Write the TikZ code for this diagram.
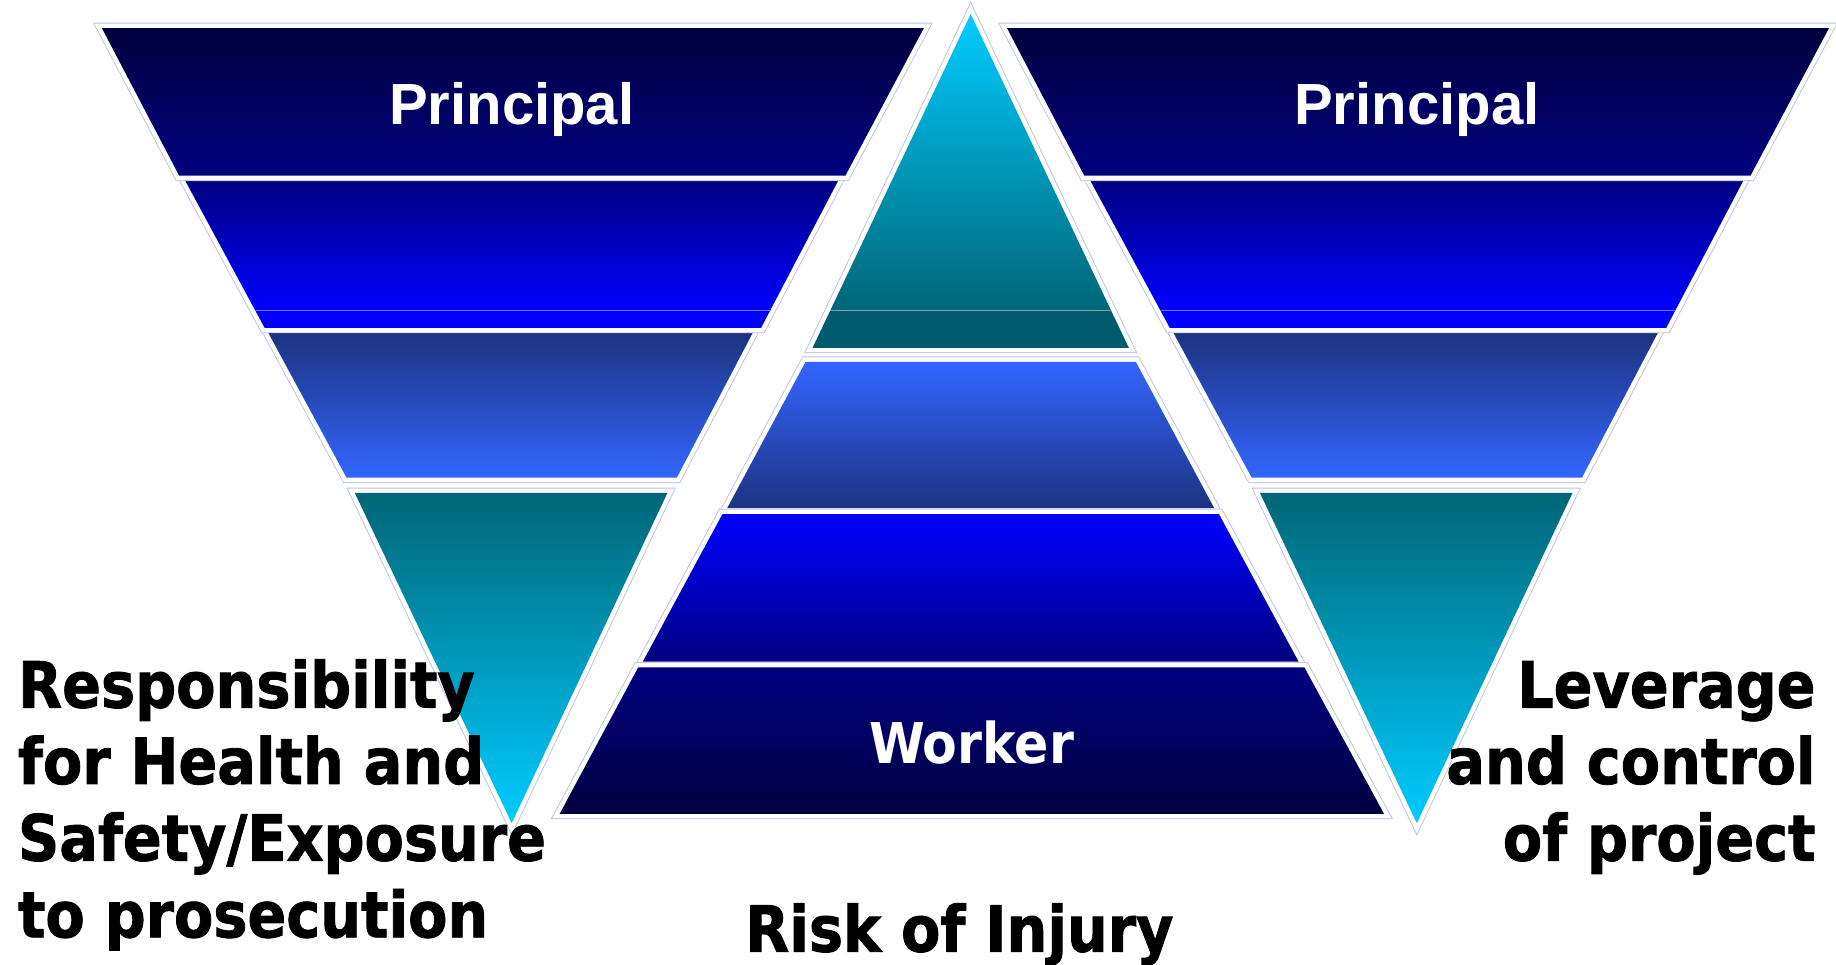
\documentclass[tikz,border=0pt]{standalone}
\usepackage{fontspec}
\newfontfamily\prinfont{Liberation Sans}
\newfontfamily\lblfont{DejaVu Sans Condensed}[FakeBold=1.3]
\newfontfamily\wrkfont{DejaVu Sans Condensed}
\definecolor{navyA}{HTML}{00003F}
\definecolor{navyB}{HTML}{000080}
\definecolor{blueC}{HTML}{0000FF}
\definecolor{slateD}{HTML}{1C3380}
\definecolor{blueE}{HTML}{3366FF}
\definecolor{tealF}{HTML}{006677}
\definecolor{cyanG}{HTML}{00CCFF}
\definecolor{tealH}{HTML}{005B6E}
\definecolor{edgecol}{HTML}{BCC4EC}
\tikzset{
  edgeline/.style={draw=edgecol, line width=4.6pt, line join=miter},
  whiteline/.style={draw=white, line width=3.8pt, line join=miter},
  seam/.style={draw=white, draw opacity=0.45, line width=0.5pt},
  prin/.style={inner sep=0pt, text=white, font=\prinfont\bfseries\fontsize{24.8pt}{29pt}\selectfont},
  work/.style={inner sep=0pt, text=white, font=\wrkfont\bfseries\fontsize{24pt}{30pt}\selectfont},
  lbl/.style={inner sep=0pt, text=black, font=\lblfont\bfseries\fontsize{27.2pt}{32pt}\selectfont}
}
\newcommand\piece[3]{%
  \draw[edgeline] #1 -- cycle;
  \draw[whiteline] #1 -- cycle;
  \shade[top color=#2, bottom color=#3] #1 -- cycle;
}
\newcommand\funnel{%
  \piece{(303,421) -- (570,421) -- (437,703)}{tealF}{cyanG}
  \piece{(229,284) -- (643,284) -- (578,408) -- (296,408)}{slateD}{blueE}
  \draw[edgeline] (158,154) -- (716,154) -- (650,280) -- (226,280) -- cycle;
  \draw[whiteline] (158,154) -- (716,154) -- (650,280) -- (226,280) -- cycle;
  \begin{scope}
    \clip (158,154) -- (716,154) -- (650,280) -- (226,280) -- cycle;
    \shade[top color=navyB, bottom color=blueC] (150,154) rectangle (730,265);
    \fill[blueC] (150,265) rectangle (730,281);
    \draw[seam] (150,265) -- (730,265);
  \end{scope}
  \piece{(87,24) -- (789,24) -- (722,150) -- (153,150)}{navyA}{navyB}
}
\begin{document}
\begin{tikzpicture}[x=0.5pt, y=-0.5pt]
\useasboundingbox (0,0) rectangle (1568,823.3);
\fill[white] (0,0) rectangle (1568,823.3);
% left funnel
\funnel
% right funnel
\begin{scope}[shift={(773,0)}]
  \funnel
\end{scope}
% central pyramid
\draw[edgeline] (829,12) -- (964,297) -- (694,297) -- cycle;
\draw[whiteline] (829,12) -- (964,297) -- (694,297) -- cycle;
\begin{scope}
  \clip (829,12) -- (964,297) -- (694,297) -- cycle;
  \shade[top color=cyanG, bottom color=tealF] (690,12) rectangle (970,265);
  \fill[tealH] (690,265) rectangle (970,298);
  \draw[seam] (690,265) -- (970,265);
\end{scope}
\piece{(688,309) -- (970,309) -- (1037,434) -- (621,434)}{blueE}{slateD}
\piece{(617,439) -- (1041,439) -- (1109,565) -- (549,565)}{blueC}{navyB}
\piece{(545,570) -- (1114,570) -- (1182,695) -- (478,695)}{navyB}{navyA}
% texts
\node[prin, anchor=base] (prinL) at (437,106) {Principal};
\node[prin, anchor=base] (prinR) at (1210,106) {Principal};
\node[work, anchor=base] (worker) at (829.7,652) {Worker};
\node[lbl, anchor=base west] (resp1) at (15,604.3) {Responsibility};
\node[lbl, anchor=base west] (resp2) at (15,669.5) {for Health and};
\node[lbl, anchor=base west] (resp3) at (15,735) {Safety/Exposure};
\node[lbl, anchor=base west] (resp4) at (15,800.5) {to prosecution};
\node[lbl, anchor=base east] (lev1) at (1551,604.3) {Leverage};
\node[lbl, anchor=base east] (lev2) at (1551,669.5) {and control};
\node[lbl, anchor=base east] (lev3) at (1551,735) {of project};
\node[lbl, anchor=base] (risk) at (819.3,812.7) {Risk of Injury};
\end{tikzpicture}
\end{document}
